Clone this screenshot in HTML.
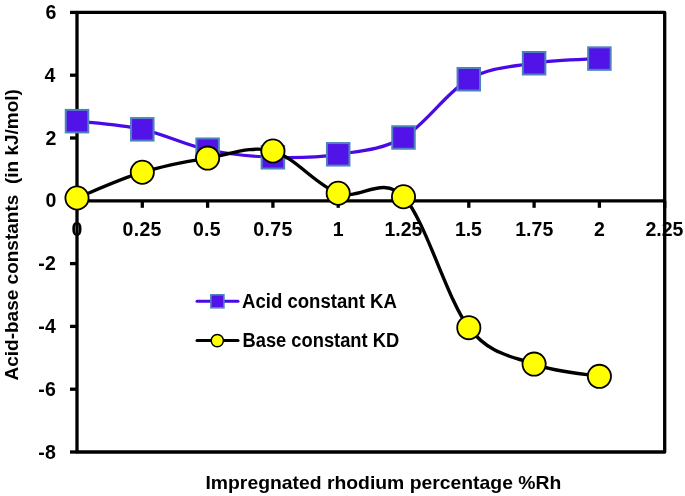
<!DOCTYPE html>
<html><head><meta charset="utf-8"><style>
html,body{margin:0;padding:0;background:#fff;}
svg{display:block;will-change:transform;filter:blur(0.3px);}
</style></head><body>
<svg width="685" height="496" viewBox="0 0 685 496">
<rect width="685" height="496" fill="#fff"/>
<rect x="77.00" y="12.40" width="587.70" height="439.60" fill="none" stroke="#000" stroke-width="3.3" stroke-linejoin="round"/>
<line x1="77.00" y1="200.80" x2="664.70" y2="200.80" stroke="#000" stroke-width="3.3"/>
<line x1="70.00" y1="452.00" x2="77.00" y2="452.00" stroke="#000" stroke-width="3.3"/>
<line x1="70.00" y1="389.20" x2="77.00" y2="389.20" stroke="#000" stroke-width="3.3"/>
<line x1="70.00" y1="326.40" x2="77.00" y2="326.40" stroke="#000" stroke-width="3.3"/>
<line x1="70.00" y1="263.60" x2="77.00" y2="263.60" stroke="#000" stroke-width="3.3"/>
<line x1="70.00" y1="200.80" x2="77.00" y2="200.80" stroke="#000" stroke-width="3.3"/>
<line x1="70.00" y1="138.00" x2="77.00" y2="138.00" stroke="#000" stroke-width="3.3"/>
<line x1="70.00" y1="75.20" x2="77.00" y2="75.20" stroke="#000" stroke-width="3.3"/>
<line x1="70.00" y1="12.40" x2="77.00" y2="12.40" stroke="#000" stroke-width="3.3"/>
<line x1="77.00" y1="200.80" x2="77.00" y2="207.80" stroke="#000" stroke-width="3.3"/>
<line x1="142.30" y1="200.80" x2="142.30" y2="207.80" stroke="#000" stroke-width="3.3"/>
<line x1="207.60" y1="200.80" x2="207.60" y2="207.80" stroke="#000" stroke-width="3.3"/>
<line x1="272.90" y1="200.80" x2="272.90" y2="207.80" stroke="#000" stroke-width="3.3"/>
<line x1="338.20" y1="200.80" x2="338.20" y2="207.80" stroke="#000" stroke-width="3.3"/>
<line x1="403.50" y1="200.80" x2="403.50" y2="207.80" stroke="#000" stroke-width="3.3"/>
<line x1="468.80" y1="200.80" x2="468.80" y2="207.80" stroke="#000" stroke-width="3.3"/>
<line x1="534.10" y1="200.80" x2="534.10" y2="207.80" stroke="#000" stroke-width="3.3"/>
<line x1="599.40" y1="200.80" x2="599.40" y2="207.80" stroke="#000" stroke-width="3.3"/>
<line x1="664.70" y1="200.80" x2="664.70" y2="207.80" stroke="#000" stroke-width="3.3"/>
<path d="M77.00,121.17 C87.88,122.53 120.53,124.57 142.30,129.33 C164.07,134.10 185.83,145.09 207.60,149.74 C229.37,154.40 251.13,156.52 272.90,157.28 C294.67,158.04 316.43,157.59 338.20,154.30 C359.97,151.00 381.73,150.01 403.50,137.50 C425.27,124.99 447.03,91.63 468.80,79.25 C490.57,66.87 512.33,66.68 534.10,63.24 C555.87,59.79 588.52,59.36 599.40,58.59" fill="none" stroke="#4a0ae6" stroke-width="3.2"/>
<rect x="65.75" y="109.92" width="22.5" height="22.5" fill="#5213e9" stroke="#4f81bd" stroke-width="2"/>
<rect x="131.05" y="118.08" width="22.5" height="22.5" fill="#5213e9" stroke="#4f81bd" stroke-width="2"/>
<rect x="196.35" y="138.49" width="22.5" height="22.5" fill="#5213e9" stroke="#4f81bd" stroke-width="2"/>
<rect x="261.65" y="146.03" width="22.5" height="22.5" fill="#5213e9" stroke="#4f81bd" stroke-width="2"/>
<rect x="326.95" y="143.05" width="22.5" height="22.5" fill="#5213e9" stroke="#4f81bd" stroke-width="2"/>
<rect x="392.25" y="126.25" width="22.5" height="22.5" fill="#5213e9" stroke="#4f81bd" stroke-width="2"/>
<rect x="457.55" y="68.00" width="22.5" height="22.5" fill="#5213e9" stroke="#4f81bd" stroke-width="2"/>
<rect x="522.85" y="51.99" width="22.5" height="22.5" fill="#5213e9" stroke="#4f81bd" stroke-width="2"/>
<rect x="588.15" y="47.34" width="22.5" height="22.5" fill="#5213e9" stroke="#4f81bd" stroke-width="2"/>
<path d="M77.00,197.97 C87.88,193.68 120.53,178.87 142.30,172.23 C164.07,165.58 185.83,161.63 207.60,158.10 C229.37,154.56 251.13,145.17 272.90,151.03 C294.67,156.89 316.43,185.65 338.20,193.26 C359.97,200.88 381.73,174.32 403.50,196.72 C425.27,219.12 447.03,299.76 468.80,327.66 C490.57,355.55 512.33,355.97 534.10,364.08 C555.87,372.19 588.52,374.29 599.40,376.33" fill="none" stroke="#000" stroke-width="3.4"/>
<circle cx="77.00" cy="197.97" r="11.6" fill="#ffff00" stroke="#000" stroke-width="1.8"/>
<circle cx="142.30" cy="172.23" r="11.6" fill="#ffff00" stroke="#000" stroke-width="1.8"/>
<circle cx="207.60" cy="158.10" r="11.6" fill="#ffff00" stroke="#000" stroke-width="1.8"/>
<circle cx="272.90" cy="151.03" r="11.6" fill="#ffff00" stroke="#000" stroke-width="1.8"/>
<circle cx="338.20" cy="193.26" r="11.6" fill="#ffff00" stroke="#000" stroke-width="1.8"/>
<circle cx="403.50" cy="196.72" r="11.6" fill="#ffff00" stroke="#000" stroke-width="1.8"/>
<circle cx="468.80" cy="327.66" r="11.6" fill="#ffff00" stroke="#000" stroke-width="1.8"/>
<circle cx="534.10" cy="364.08" r="11.6" fill="#ffff00" stroke="#000" stroke-width="1.8"/>
<circle cx="599.40" cy="376.33" r="11.6" fill="#ffff00" stroke="#000" stroke-width="1.8"/>
<line x1="197" y1="301.35" x2="238" y2="301.35" stroke="#4a0ae6" stroke-width="3" stroke-linecap="round"/>
<rect x="210.9" y="294.8" width="13" height="13" fill="#5213e9" stroke="#4f81bd" stroke-width="1.6"/>
<line x1="197" y1="340.6" x2="238" y2="340.6" stroke="#000" stroke-width="3" stroke-linecap="round"/>
<circle cx="217.3" cy="340.6" r="6.1" fill="#ffff00" stroke="#000" stroke-width="1.5"/>
<text x="71.40" y="235.60" font-size="19.5" font-family="Liberation Sans, sans-serif" font-weight="bold" >0</text>
<text x="122.60" y="235.60" font-size="19.5" font-family="Liberation Sans, sans-serif" font-weight="bold" textLength="38.85" lengthAdjust="spacing">0.25</text>
<text x="192.90" y="235.60" font-size="19.5" font-family="Liberation Sans, sans-serif" font-weight="bold" textLength="27.81" lengthAdjust="spacing">0.5</text>
<text x="253.20" y="235.60" font-size="19.5" font-family="Liberation Sans, sans-serif" font-weight="bold" textLength="39.05" lengthAdjust="spacing">0.75</text>
<text x="332.70" y="235.60" font-size="19.5" font-family="Liberation Sans, sans-serif" font-weight="bold" >1</text>
<text x="384.50" y="235.60" font-size="19.5" font-family="Liberation Sans, sans-serif" font-weight="bold" textLength="37.95" lengthAdjust="spacing">1.25</text>
<text x="454.90" y="235.60" font-size="19.5" font-family="Liberation Sans, sans-serif" font-weight="bold" textLength="27.01" lengthAdjust="spacing">1.5</text>
<text x="515.20" y="235.60" font-size="19.5" font-family="Liberation Sans, sans-serif" font-weight="bold" textLength="38.15" lengthAdjust="spacing">1.75</text>
<text x="593.95" y="235.60" font-size="19.5" font-family="Liberation Sans, sans-serif" font-weight="bold" >2</text>
<text x="645.40" y="235.60" font-size="19.5" font-family="Liberation Sans, sans-serif" font-weight="bold" textLength="38.05" lengthAdjust="spacing">2.25</text>
<text x="38.20" y="458.60" font-size="19.5" font-family="Liberation Sans, sans-serif" font-weight="bold" textLength="17.74" lengthAdjust="spacing">-8</text>
<text x="38.20" y="395.80" font-size="19.5" font-family="Liberation Sans, sans-serif" font-weight="bold" textLength="17.74" lengthAdjust="spacing">-6</text>
<text x="38.20" y="333.00" font-size="19.5" font-family="Liberation Sans, sans-serif" font-weight="bold" textLength="17.74" lengthAdjust="spacing">-4</text>
<text x="38.20" y="270.20" font-size="19.5" font-family="Liberation Sans, sans-serif" font-weight="bold" textLength="17.74" lengthAdjust="spacing">-2</text>
<text x="45.60" y="207.40" font-size="19.5" font-family="Liberation Sans, sans-serif" font-weight="bold" >0</text>
<text x="45.60" y="144.60" font-size="19.5" font-family="Liberation Sans, sans-serif" font-weight="bold" >2</text>
<text x="44.60" y="81.80" font-size="19.5" font-family="Liberation Sans, sans-serif" font-weight="bold" >4</text>
<text x="45.60" y="19.00" font-size="19.5" font-family="Liberation Sans, sans-serif" font-weight="bold" >6</text>
<text x="205.48" y="488.60" font-size="19" font-family="Liberation Sans, sans-serif" font-weight="bold" textLength="355.80" lengthAdjust="spacingAndGlyphs">Impregnated rhodium percentage %Rh</text>
<text x="242.05" y="307.60" font-size="19.5" font-family="Liberation Sans, sans-serif" font-weight="bold" textLength="154.74" lengthAdjust="spacingAndGlyphs">Acid constant KA</text>
<text x="242.56" y="347.30" font-size="19.5" font-family="Liberation Sans, sans-serif" font-weight="bold" textLength="156.56" lengthAdjust="spacingAndGlyphs">Base constant KD</text>
<text transform="translate(17.50,380.50) rotate(-90)" x="0" y="0" font-size="19" font-family="Liberation Sans, sans-serif" font-weight="bold" textLength="291.41" lengthAdjust="spacingAndGlyphs" xml:space="preserve">Acid-base constants  (in kJ/mol)</text>
</svg>
</body></html>
